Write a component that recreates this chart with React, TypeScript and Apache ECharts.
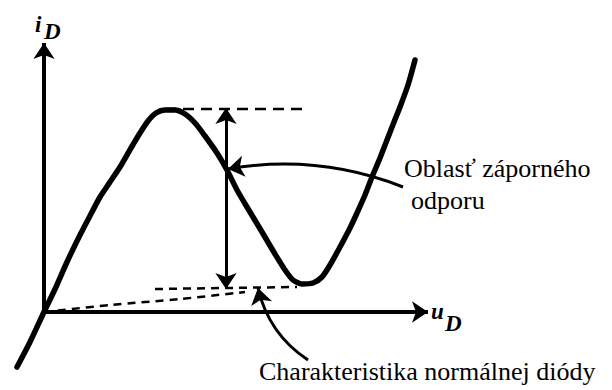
import React, { useEffect, useRef } from "react";
import * as echarts from "echarts";

// Tunnel-diode characteristic i_D(u_D), arbitrary units
const uD = [-6.75, -3.5, 0, 3, 5.75, 9, 12, 14, 16.5, 19, 21.75, 24, 26, 28, 30.25, 32.75, 35.25, 37.75, 40.25, 43.25, 45.75, 48.25, 51.5, 54.5, 57.75, 60.25, 62.25, 64.5, 67.25, 69.5, 71.5, 74, 76.5, 78.25, 80.25, 82, 84, 85.75, 87.5, 89, 91, 92.75];
const iD = [-13.75, -7.5, 0, 6.25, 12.5, 19.25, 25, 28.75, 32.5, 36.25, 41, 44.75, 47.75, 49.75, 50.5, 50.5, 49.5, 47.25, 44, 39.75, 35.5, 30.5, 25, 20, 14.5, 10.5, 8, 7, 7.25, 8.75, 11.75, 16.25, 21, 24.75, 29.25, 33.75, 38.5, 43, 47.5, 51.25, 56.75, 63];

// axes (origin to arrow tip)
const uAxisEnd = 96;
const iAxisEnd = 67.25;

// peak current level (dashed guide)
const peakU = [30.25, 65.5];
const peakI = [50.75, 50.75];

// valley current level (dashed guide)
const valleyU = [27.75, 63.25];
const valleyI = [5.75, 6.25];

// normal diode characteristic (dashed)
const normalU = [0, 16.5, 34, 50.25];
const normalI = [0, 1.75, 3.25, 5];

// peak-to-valley span marker
const spanU = 45.5;
const spanI = [51, 5.75];

// annotation pointers: [start, tip]
const negResPointer = [[89.75, 31.25], [46, 35.75]];
const normalPointer = [[66, -12], [53.5, 6]];

const labelNegRes = ["Oblasť záporného", "odporu"];
const labelNormal = "Charakteristika normálnej diódy";

const zip = (a: number[], b: number[]) => a.map((v, k) => [v, b[k]]);

export default function App() {
  const ref = useRef<HTMLDivElement>(null);

  useEffect(() => {
    if (!ref.current) return;
    const chart = echarts.init(ref.current, undefined, { renderer: "svg" });
    const ink = "#000";
    const serif = "Liberation Serif";

    const arrowLine = (coords: number[][], width: number, curveness: number, both = false) => ({
      type: "lines",
      coordinateSystem: "cartesian2d",
      clip: false,
      symbol: both ? ["arrow", "arrow"] : ["none", "arrow"],
      symbolSize: 16,
      lineStyle: { color: ink, width, opacity: 1, curveness },
      data: [{ coords }],
    });

    // text blocks, anchored at their top-left corner
    const label = (text: string, left: number, top: number, size: number, symbol = false) => ({
      text,
      left,
      top,
      padding: 0,
      textStyle: {
        color: ink,
        fontFamily: serif,
        fontSize: size,
        fontStyle: symbol ? "italic" : "normal",
        fontWeight: symbol ? "bold" : "normal",
      },
    });

    chart.setOption({
      animation: false,
      backgroundColor: "#fff",
      textStyle: { fontFamily: serif },
      grid: { left: 0, top: 0, right: 0, bottom: 0 },
      xAxis: { type: "value", min: -11, max: 142, show: false },
      yAxis: { type: "value", min: -19.5, max: 78, show: false },
      title: [
        label("i", 35, 12.5, 23, true),
        label("D", 44, 19.5, 23, true),
        label("u", 431, 299.5, 23, true),
        label("D", 445, 311.5, 23, true),
        label(labelNegRes[0], 404, 155, 26),
        label(labelNegRes[1], 411, 187, 26),
        label(labelNormal, 259, 358, 26),
      ],
      series: [
        {
          type: "line",
          data: zip(peakU, peakI),
          showSymbol: false,
          lineStyle: { color: ink, width: 2.5, type: [11, 7] },
        },
        {
          type: "line",
          data: zip(valleyU, valleyI),
          showSymbol: false,
          lineStyle: { color: ink, width: 2.5, type: [8, 6] },
        },
        {
          type: "line",
          data: zip(normalU, normalI),
          showSymbol: false,
          smooth: 0.3,
          lineStyle: { color: ink, width: 2.5, type: [8, 6] },
        },
        arrowLine([[0, 0], [uAxisEnd, 0]], 4, 0),
        arrowLine([[0, 0], [0, iAxisEnd]], 4, 0),
        {
          type: "line",
          data: zip(uD, iD),
          showSymbol: false,
          smooth: 0.25,
          lineStyle: { color: ink, width: 5.5, cap: "round", join: "round" },
        },
        arrowLine([[spanU, spanI[1]], [spanU, spanI[0]]], 3, 0, true),
        arrowLine(negResPointer, 3, -0.14),
        arrowLine(normalPointer, 3, 0.2),
      ],
    });

    return () => chart.dispose();
  }, []);

  return (
    <div
      ref={ref}
      style={{ position: "fixed", left: 0, top: 0, width: 612, height: 390, background: "#fff", fontFamily: "Liberation Serif" }}
    />
  );
}
